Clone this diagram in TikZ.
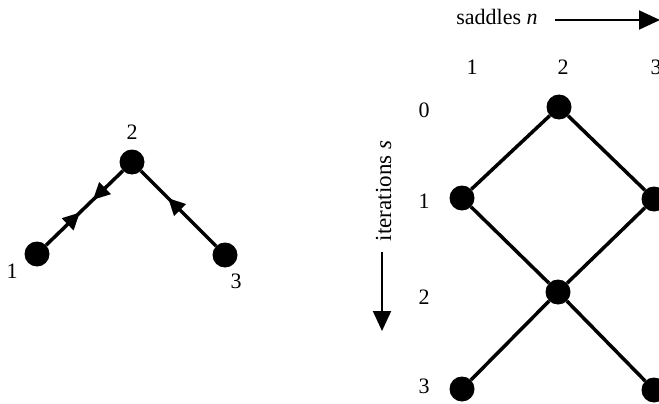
\documentclass[tikz,border=0pt]{standalone}
\usepackage{fontspec}
\setmainfont{Liberation Serif}
\usetikzlibrary{arrows.meta,decorations.markings}
\begin{document}
\begin{tikzpicture}[x=1pt,y=-1pt,
  dot/.style={circle,fill=black,minimum size=25pt,inner sep=0pt},
  lbl/.style={font=\fontsize{22}{24}\selectfont,inner sep=0pt},
  edge/.style={line width=3.5pt},
  axis/.style={line width=2pt,-{Triangle[length=21pt,width=19pt]}}]
\useasboundingbox (0,0) rectangle (659,404);
\clip (0,0) rectangle (659,404);
% left graph
\node[dot] (a1) at (37,254) {};
\node[dot] (a2) at (132,162) {};
\node[dot] (a3) at (225,255) {};
\node[lbl] (la1) at (12,271) {1};
\node[lbl] (la2) at (132,132) {2};
\node[lbl] (la3) at (236,281) {3};
\draw[edge,postaction={decorate},decoration={markings,
  mark=at position 0.44 with {\arrow{Triangle[length=17pt,width=16pt]}},
  mark=at position 0.61 with {\arrowreversed{Triangle[length=17pt,width=16pt]}}}] (a1) -- (a2);
\draw[edge,postaction={decorate},decoration={markings,
  mark=at position 0.64 with {\arrow{Triangle[length=17pt,width=16pt]}}}] (a3) -- (a2);
% right graph
\node[dot] (b02) at (559,107) {};
\node[dot] (b11) at (462,198) {};
\node[dot] (b13) at (654,199) {};
\node[dot] (b22) at (558,292) {};
\node[dot] (b31) at (462,389) {};
\node[dot] (b33) at (654,390) {};
\draw[edge] (b02) -- (b11);
\draw[edge] (b02) -- (b13);
\draw[edge] (b11) -- (b22);
\draw[edge] (b13) -- (b22);
\draw[edge] (b22) -- (b31);
\draw[edge] (b22) -- (b33);
% column labels
\node[lbl] (c1) at (472,67) {1};
\node[lbl] (c2) at (563,67) {2};
\node[lbl] (c3) at (656,67) {3};
% row labels
\node[lbl] (r0) at (424,110) {0};
\node[lbl] (r1) at (424,201) {1};
\node[lbl] (r2) at (424,297) {2};
\node[lbl] (r3) at (424,386) {3};
% axes
\node[lbl,anchor=base] (sad) at (497,25) {saddles \textit{n}};
\coordinate (hs) at (555,20);
\coordinate (he) at (660,20);
\draw[axis] (hs) -- (he);
\node[lbl,font=\fontsize{23}{25}\selectfont,rotate=90,anchor=base] (it) at (391,191) {iterations \textit{s}};
\coordinate (vs) at (382,252);
\coordinate (ve) at (382,331);
\draw[axis,-{Triangle[length=20pt,width=18pt]}] (vs) -- (ve);
\end{tikzpicture}
\end{document}
